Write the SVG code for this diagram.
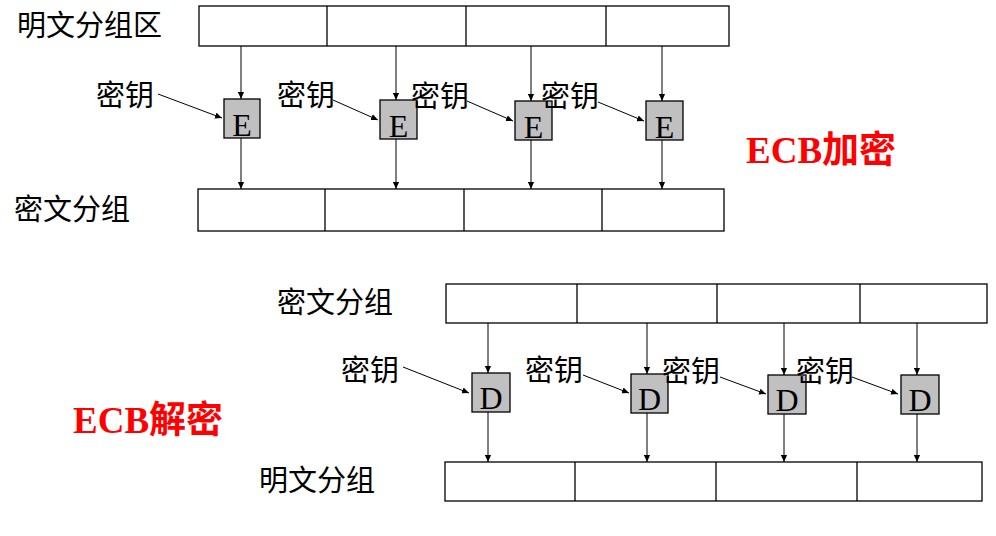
<svg xmlns="http://www.w3.org/2000/svg" width="996" height="536" viewBox="0 0 996 536">
<defs>
<style>
.bar{fill:#fff;stroke:#000;stroke-width:1.3}
.div{stroke:#000;stroke-width:1.3}
.blk{fill:#c0c0c0;stroke:#000;stroke-width:1.3}
.cn{font-family:"Liberation Serif","Noto Sans CJK SC",serif;font-size:29px;fill:#000}
.op{font-family:"Liberation Serif",serif;font-size:32px;fill:#000;text-anchor:middle}
.ttl{font-family:"Liberation Serif","Noto Sans CJK SC",serif;font-size:37px;font-weight:bold;fill:#ff0000}
.ln{stroke:#000;stroke-width:1;fill:none;marker-end:url(#ah)}
</style>
<marker id="ah" viewBox="0 0 8 8" refX="8" refY="4" markerWidth="7" markerHeight="7" markerUnits="userSpaceOnUse" orient="auto">
<path d="M0,0.5 L8,4 L0,7.5 Z" fill="#000"/>
</marker>
</defs>
<rect width="996" height="536" fill="#fff"/>

<!-- Encryption section -->
<g id="enc-plain">
<rect class="bar" x="199" y="6" width="530" height="40"/>
<line class="div" x1="327" y1="6" x2="327" y2="46"/>
<line class="div" x1="466" y1="6" x2="466" y2="46"/>
<line class="div" x1="606" y1="6" x2="606" y2="46"/>
<text class="cn" x="17" y="36">明文分组区</text>
</g>
<g id="enc-cipher">
<rect class="bar" x="198" y="189" width="526" height="42"/>
<line class="div" x1="325" y1="189" x2="325" y2="231"/>
<line class="div" x1="464" y1="189" x2="464" y2="231"/>
<line class="div" x1="602" y1="189" x2="602" y2="231"/>
<text class="cn" x="14" y="220">密文分组</text>
</g>
<g id="E1"><rect class="blk" x="224" y="99" width="36" height="39"/><text class="op" x="242" y="136">E</text></g>
<g id="E2"><rect class="blk" x="380" y="100" width="37" height="39"/><text class="op" x="398.5" y="137">E</text></g>
<g id="E3"><rect class="blk" x="515" y="101" width="37" height="39"/><text class="op" x="533.5" y="138">E</text></g>
<g id="E4"><rect class="blk" x="646" y="101" width="37" height="39"/><text class="op" x="664.5" y="138">E</text></g>
<g id="enc-keys">
<text class="cn" x="96" y="106">密钥</text>
<text class="cn" x="277" y="106">密钥</text>
<text class="cn" x="411" y="107">密钥</text>
<text class="cn" x="541" y="107">密钥</text>
</g>
<g id="enc-title"><text class="ttl" x="746" y="163">ECB加密</text></g>

<!-- Decryption section -->
<g id="dec-cipher">
<rect class="bar" x="446" y="284" width="541" height="39"/>
<line class="div" x1="577" y1="284" x2="577" y2="323"/>
<line class="div" x1="717" y1="284" x2="717" y2="323"/>
<line class="div" x1="860" y1="284" x2="860" y2="323"/>
<text class="cn" x="277" y="313">密文分组</text>
</g>
<g id="dec-plain">
<rect class="bar" x="445" y="462" width="537" height="39"/>
<line class="div" x1="575" y1="462" x2="575" y2="501"/>
<line class="div" x1="716" y1="462" x2="716" y2="501"/>
<line class="div" x1="857" y1="462" x2="857" y2="501"/>
<text class="cn" x="259" y="491">明文分组</text>
</g>
<g id="D1"><rect class="blk" x="472" y="373" width="38" height="39"/><text class="op" x="491" y="409">D</text></g>
<g id="D2"><rect class="blk" x="631" y="374" width="37" height="39"/><text class="op" x="649.5" y="410">D</text></g>
<g id="D3"><rect class="blk" x="768" y="375" width="38" height="39"/><text class="op" x="787" y="411">D</text></g>
<g id="D4"><rect class="blk" x="901" y="375" width="38" height="39"/><text class="op" x="920" y="411">D</text></g>
<g id="dec-keys">
<text class="cn" x="341" y="381">密钥</text>
<text class="cn" x="525" y="381">密钥</text>
<text class="cn" x="662" y="382">密钥</text>
<text class="cn" x="796" y="382">密钥</text>
</g>
<g id="dec-title"><text class="ttl" x="73" y="433">ECB解密</text></g>

<g id="connectors">
<line class="ln" x1="241" y1="46" x2="241" y2="99"/>
<line class="ln" x1="396" y1="46" x2="396" y2="100"/>
<line class="ln" x1="531" y1="46" x2="531" y2="101"/>
<line class="ln" x1="662" y1="46" x2="662" y2="101"/>
<line class="ln" x1="241" y1="138" x2="241" y2="189"/>
<line class="ln" x1="396" y1="139" x2="396" y2="189"/>
<line class="ln" x1="531" y1="140" x2="531" y2="189"/>
<line class="ln" x1="662" y1="140" x2="662" y2="189"/>
<line class="ln" x1="158" y1="94" x2="222" y2="118"/>
<line class="ln" x1="333" y1="100" x2="378" y2="120"/>
<line class="ln" x1="467" y1="101" x2="513" y2="121"/>
<line class="ln" x1="598" y1="102" x2="644" y2="121"/>

<line class="ln" x1="488" y1="323" x2="488" y2="373"/>
<line class="ln" x1="647" y1="323" x2="647" y2="374"/>
<line class="ln" x1="784" y1="323" x2="784" y2="375"/>
<line class="ln" x1="917" y1="323" x2="917" y2="375"/>
<line class="ln" x1="488" y1="412" x2="488" y2="462"/>
<line class="ln" x1="647" y1="413" x2="647" y2="462"/>
<line class="ln" x1="784" y1="414" x2="784" y2="462"/>
<line class="ln" x1="917" y1="414" x2="917" y2="462"/>
<line class="ln" x1="403" y1="367" x2="469" y2="393"/>
<line class="ln" x1="583" y1="375" x2="629" y2="393"/>
<line class="ln" x1="720" y1="377" x2="766" y2="394"/>
<line class="ln" x1="852" y1="377" x2="898" y2="394"/>
</g>
</svg>
